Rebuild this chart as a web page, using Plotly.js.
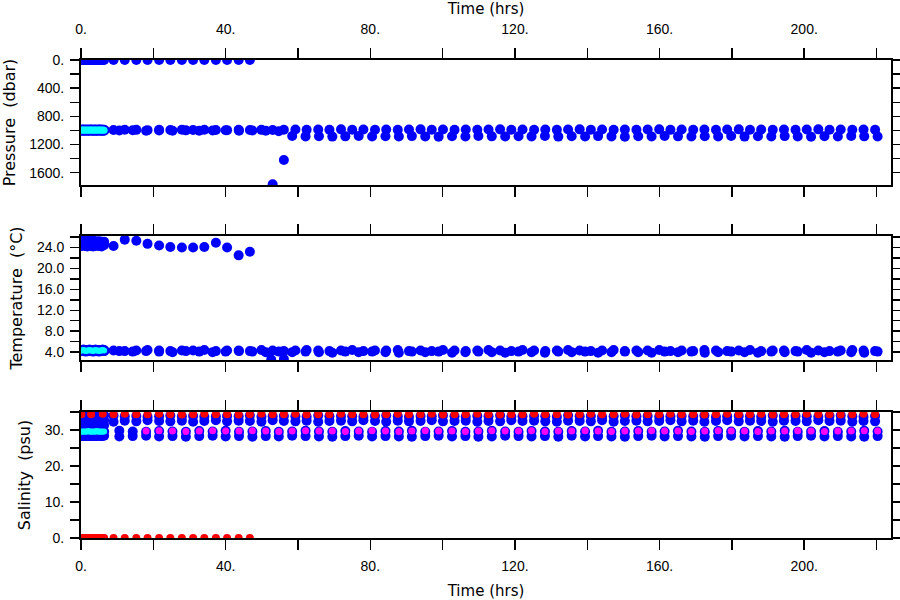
<!DOCTYPE html>
<html><head><meta charset="utf-8">
<script src="https://cdn.plot.ly/plotly-3.0.1.min.js"></script>
<style>html,body{margin:0;padding:0;background:#fff}#chart{width:900px;height:600px}</style>
</head><body><div id="chart"></div>
<script>
// ---------- DATA ----------
// dense sampling period at the start (hrs)
var denseT = [0.0,0.35,0.7,1.0,1.35,1.7,2.0,2.35,2.7,3.0,3.35,3.7,4.0,4.35,4.7,5.0,5.35,5.7,6.0,6.4];
// cycle series A (hrs)
var tA = [9.0,12.1,15.3,18.4,21.6,24.7,27.9,31.0,34.1,37.3,40.4,43.6,46.7,49.9,53.0,56.1,59.3,62.4,65.6,68.7,71.9,75.0,78.1,81.3,84.4,87.6,90.7,93.9,97.0,100.1,103.3,106.4,109.6,112.7,115.9,119.0,122.1,125.3,128.4,131.6,134.7,137.9,141.0,144.1,147.3,150.4,153.6,156.7,159.9,163.0,166.1,169.3,172.4,175.6,178.7,181.9,185.0,188.1,191.3,194.4,197.6,200.7,203.9,207.0,210.1,213.3,216.4,219.6];
// cycle series B (hrs)
var tB = [10.6,14.3,18.0,21.6,25.3,29.0,32.7,36.4,40.0,43.7,47.4,51.1,54.7,58.4,62.1,65.8,69.5,73.1,76.8,80.5,84.2,87.9,91.5,95.2,98.9,102.6,106.3,109.9,113.6,117.3,121.0,124.6,128.3,132.0,135.7,139.4,143.0,146.7,150.4,154.1,157.8,161.4,165.1,168.8,172.5,176.2,179.8,183.5,187.2,190.9,194.6,198.2,201.9,205.6,209.3,213.0,216.6,220.3];
// surface times of series A (first 13 cycles)
var tSurf = [9.0,12.1,15.3,18.4,21.6,24.7,27.9,31.0,34.1,37.3,40.4,43.6,46.7];

// Pressure (dbar)
var pDenseSurf = [0,0,0,0,0,0,0,0,0,0,0,0,0,0,0,0,0,0,0,0];
var pDensePark = [996,994,995,997,993,995,996,994,995,993,997,995,994,996,995,993,994,996,995,997];
var pSurf = [0,0,0,0,0,0,0,0,0,0,0,0,0];
var pParkA = [995,990,992,996,990,994,991,995,990,993,996,990,994,992,995,990,988,992,986,990,985,991,987,990,986,992,988,985,990,987,992,986,990,988,985,991,987,990,986,992,988,985,990,987,991,986,990,988,985,992,987,990,986,991,988,985,990,987,992,986,990,988,985,991,987,990,986,990];
var pParkB = [1002,998,1005,1000,1003,999,1004,1001,998,1003,1000,1004,1010,1080,1085,1082,1088,1084,1080,1086,1083,1087,1081,1085,1089,1082,1086,1080,1084,1087,1082,1085,1080,1088,1083,1086,1081,1085,1089,1082,1086,1080,1084,1087,1082,1085,1080,1088,1083,1086,1081,1085,1089,1082,1086,1080,1084,1087];
var pOutT = [53.0,56.1];
var pOutV = [1765,1420];

// Temperature (degC)
var tDenseTop1 = [24.3,24.4,24.5,24.3,24.4,24.2,24.4,24.5,24.3,24.4,24.2,24.4,24.3,24.5,24.4,24.3,24.4,24.2,24.4,24.5];
var tDenseTop2 = [25.6,25.3,25.1,25.4,25.2,25.0,25.3,25.1,25.2,25.0,25.3,25.1,25.2,25.0,25.1,25.2,25.0,25.1,24.9,25.1];
var tDensePark = [4.3,4.3,4.4,4.3,4.2,4.3,4.3,4.4,4.3,4.3,4.2,4.3,4.4,4.3,4.3,4.2,4.3,4.3,4.4,4.3];
var tSurfV = [24.3,25.5,25.3,24.7,24.4,24.1,24.0,24.0,24.1,24.9,24.0,22.5,23.2];
var tParkA = [4.3,4.2,4.3,4.4,4.3,4.2,4.3,4.3,4.4,4.2,4.3,4.3,4.2,4.4,4.3,4.2,4.3,4.4,4.3,4.2,4.3,4.4,4.2,4.3,4.3,4.4,4.2,4.3,4.2,4.4,4.3,4.2,4.3,4.4,4.3,4.2,4.4,4.3,4.2,4.3,4.4,4.3,4.2,4.3,4.4,4.2,4.3,4.3,4.4,4.2,4.3,4.2,4.4,4.3,4.2,4.3,4.4,4.2,4.3,4.3,4.2,4.4,4.3,4.2,4.3,4.4,4.3,4.2];
var tParkB = [4.2,4.1,4.2,4.1,4.0,4.2,4.1,4.0,4.1,4.2,4.1,4.0,4.1,4.0,4.1,4.0,3.9,4.1,4.0,4.1,4.0,3.9,4.1,4.0,4.1,3.9,4.0,4.1,4.0,3.9,4.1,4.0,3.9,4.1,4.0,4.1,3.9,4.0,4.1,4.0,3.9,4.1,4.0,4.1,3.9,4.0,4.1,4.0,3.9,4.1,4.0,4.1,3.9,4.0,4.1,4.0,3.9,4.1];
var tOutT = [52.6,56.1];
var tOutV = [2.6,2.7];

// Salinity (psu)
var sDense1 = [34.1,34.2,34.0,34.1,34.2,34.1,34.0,34.2,34.1,34.1,34.0,34.2,34.1,34.0,34.1,34.2,34.1,34.0,34.2,34.1];
var sDense2 = [32.7,32.8,32.6,32.7,32.9,32.7,32.6,32.8,32.7,32.6,32.8,32.7,32.9,32.6,32.7,32.8,32.7,32.6,32.8,32.7];
var sDense3 = [31.3,31.4,31.2,31.3,31.5,31.3,31.2,31.4,31.3,31.2,31.4,31.3,31.5,31.2,31.3,31.4,31.3,31.2,31.4,31.3];
var sDense4 = [28.4,28.3,28.5,28.4,28.3,28.4,28.5,28.3,28.4,28.4,28.3,28.5,28.4,28.3,28.4,28.5,28.4,28.3,28.4,28.4];
var sDenseCyan = [29.6,29.5,29.6,29.6,29.5,29.6,29.7,29.6,29.5,29.6,29.6,29.5,29.6,29.7,29.6,29.5,29.6,29.6,29.5,29.6];
var sDenseZero = [0,0,0,0,0,0,0,0,0,0,0,0,0,0,0,0,0,0,0,0];
var sRedDenseT = [0.1,2.8,6.0];
var sRedDenseV = [34.4,34.4,34.5];
var sSurf = [0,0,0,0,0,0,0,0,0,0,0,0,0];
var sParkA1 = [34.0,33.8,33.9,33.7,33.8,34.0,33.8,33.9,33.7,33.8,33.9,33.8,34.0,33.7,33.8,33.9,33.8,33.7,34.0,33.8,33.9,33.8,33.7,33.9,34.0,33.8,33.7,33.9,33.8,34.0,33.8,33.7,33.9,33.8,34.0,33.7,33.8,33.9,33.8,33.7,34.0,33.8,33.9,33.7,33.8,34.0,33.8,33.9,33.7,33.8,33.9,33.8,34.0,33.7,33.8,33.9,33.8,33.7,34.0,33.8,33.9,33.8,33.7,33.9,34.0,33.8,33.7,33.9];
var sParkA2 = [32.3,32.6,32.4,32.7,32.5,32.4,32.6,32.3,32.5,32.7,32.4,32.6,32.5,32.3,32.7,32.5,32.4,32.6,32.3,32.5,32.6,32.4,32.7,32.5,32.3,32.6,32.4,32.5,32.7,32.4,32.5,32.6,32.3,32.5,32.4,32.7,32.5,32.6,32.4,32.3,32.6,32.5,32.4,32.7,32.3,32.5,32.6,32.4,32.5,32.7,32.4,32.6,32.3,32.5,32.7,32.4,32.6,32.5,32.3,32.6,32.5,32.4,32.7,32.5,32.6,32.3,32.5,32.4];
var sFlagA = [34.4,34.5,34.4,34.4,34.5,34.4,34.3,34.4,34.5,34.4,34.4,34.3,34.4,34.5,34.4,34.4,34.5,34.3,34.4,34.4,34.5,34.4,34.4,34.3,34.4,34.5,34.4,34.4,34.5,34.3,34.4,34.4,34.5,34.4,34.3,34.4,34.4,34.5,34.4,34.4,34.3,34.4,34.5,34.4,34.4,34.5,34.3,34.4,34.4,34.5,34.4,34.4,34.3,34.4,34.5,34.4,34.4,34.5,34.3,34.4,34.4,34.5,34.4,34.4,34.3,34.4,34.5,34.4];
var sParkB1 = [29.8,29.6,29.5,29.7,29.6,29.5,29.7,29.6,29.8,29.5,29.6,29.7,29.5,29.6,29.8,29.6,29.5,29.7,29.6,29.5,29.7,29.6,29.8,29.5,29.6,29.7,29.5,29.6,29.8,29.6,29.5,29.7,29.6,29.5,29.7,29.6,29.8,29.5,29.6,29.7,29.5,29.6,29.8,29.6,29.5,29.7,29.6,29.5,29.7,29.6,29.8,29.5,29.6,29.7,29.5,29.6,29.8,29.6];
var sParkB2 = [28.2,28.3,28.4,28.2,28.3,28.1,28.3,28.4,28.2,28.3,28.1,28.3,28.2,28.4,28.3,28.2,28.1,28.3,28.4,28.2,28.3,28.2,28.1,28.3,28.4,28.2,28.3,28.1,28.2,28.4,28.3,28.2,28.3,28.1,28.4,28.2,28.3,28.2,28.1,28.3,28.4,28.2,28.3,28.2,28.1,28.3,28.4,28.2,28.3,28.2,28.1,28.3,28.4,28.2,28.3,28.2,28.1,28.3];
var sMagB = [null,null,29.7,29.8,29.7,29.6,29.7,29.8,29.7,29.7,29.8,29.7,29.6,29.7,29.8,29.7,29.7,29.6,29.7,29.8,29.7,29.6,29.7,29.8,29.7,29.7,29.6,29.7,29.8,29.7,29.7,29.8,29.6,29.7,29.7,29.8,29.7,29.6,29.7,29.7,29.8,29.7,29.7,29.6,29.7,29.8,29.7,29.7,29.6,29.7,29.7,29.8,29.7,29.6,29.7,29.7,29.8,29.7];

// tick labels
var xTickVals = [0,20,40,60,80,100,120,140,160,180,200,220];
var xTickText = ['0.','','40.','','80.','','120.','','160.','','200.',''];
var pTickVals = [0,200,400,600,800,1000,1200,1400,1600];
var pTickText = ['0.','','400.','','800.','','1200.','','1600.'];
var tTickVals = [4,6,8,10,12,14,16,18,20,22,24,26];
var tTickText = ['4.0','','8.0','','12.0','','16.0','','20.0','','24.0',''];
var sTickVals = [0,5,10,15,20,25,30,35];
var sTickText = ['0.','','10.','','20.','','30.',''];

// ---------- PLOT ----------
var BLUE='#0000ff', CYAN='#00ffff', RED='#ff0000', MAG='#ff00ff';
function pts(x,y,color,size,n){
  return {type:'scatter',mode:'markers',x:x,y:y,xaxis:'x'+(n>1?n:''),yaxis:'y'+(n>1?n:''),
    hoverinfo:'skip',marker:{color:color,size:size,line:{width:0}}};
}
var traces = [
  // pressure
  pts([].concat(denseT,denseT,tSurf,tA,tB,pOutT),[].concat(pDenseSurf,pDensePark,pSurf,pParkA,pParkB,pOutV),BLUE,10,1),
  pts(denseT,pDensePark,BLUE,11,1),
  pts(denseT,pDensePark,CYAN,7,1),
  // temperature
  pts([].concat(denseT,denseT,denseT,tSurf,tA,tB,tOutT),[].concat(tDenseTop1,tDenseTop2,tDensePark,tSurfV,tParkA,tParkB,tOutV),BLUE,10,2),
  pts(denseT,tDensePark,BLUE,11,2),
  pts(denseT,tDensePark,CYAN,6,2),
  // salinity
  pts([].concat(denseT,denseT,denseT,denseT,denseT,tA,tA,tB,tB),[].concat(sDense1,sDense2,sDense3,sDense4,sDenseCyan,sParkA1,sParkA2,sParkB1,sParkB2),BLUE,10,3),
  pts(denseT,sDenseCyan,CYAN,6,3),
  pts(tB,sMagB,MAG,7,3),
  pts([].concat(sRedDenseT,tA,denseT,tSurf),[].concat(sRedDenseV,sFlagA,sDenseZero,sSurf),RED,8,3)
];

var FONT = {family:'"Liberation Sans", Arial, sans-serif', size:14, color:'#000'};
function xax(extra){
  return Object.assign({range:[0,224],tickmode:'array',tickvals:xTickVals,ticktext:xTickText,
    showline:true,linecolor:'#000',linewidth:2,mirror:'allticks',ticks:'outside',ticklen:10,tickwidth:1.5,tickcolor:'#000',
    showgrid:false,zeroline:false,fixedrange:true,automargin:false,tickfont:FONT},extra);
}
function yax(extra){
  return Object.assign({tickmode:'array',showline:true,linecolor:'#000',linewidth:2,mirror:'allticks',ticks:'outside',ticklen:9,tickwidth:1.5,tickcolor:'#000',
    showgrid:false,zeroline:false,fixedrange:true,automargin:false,tickfont:FONT,ticklabelstandoff:3},extra);
}
var TFONT = {family:'"DejaVu Sans", sans-serif', size:15, color:'#000'};
var YFONT = {family:'"DejaVu Sans", sans-serif', size:16, color:'#000'};
var layout = {
  width:900,height:600,margin:{l:81,r:9,t:60,b:62},showlegend:false,
  paper_bgcolor:'#fff',plot_bgcolor:'#fff',font:FONT,
  xaxis: xax({anchor:'y',side:'top',showticklabels:true,ticklabelstandoff:8,title:{text:'Time (hrs)',font:TFONT,standoff:6}}),
  xaxis2: xax({anchor:'y2',showticklabels:false}),
  xaxis3: xax({anchor:'y3',side:'bottom',showticklabels:true,ticklabelstandoff:4,title:{text:'Time (hrs)',font:TFONT,standoff:13}}),
  yaxis: yax({domain:[0.7385,1],anchor:'x',range:[1775,0],tickvals:pTickVals,ticktext:pTickText,title:{text:'Pressure\u00a0 (dbar)',font:YFONT,standoff:10}}),
  yaxis2: yax({domain:[0.3724,0.6318],anchor:'x2',range:[2.5,26.2],tickvals:tTickVals,ticktext:tTickText,title:{text:'Temperature\u00a0 (°C)',font:YFONT,standoff:10}}),
  yaxis3: yax({domain:[0,0.2636],anchor:'x3',range:[0,35],tickvals:sTickVals,ticktext:sTickText,title:{text:'Salinity\u00a0 (psu)',font:YFONT,standoff:10}})
};
Plotly.newPlot('chart',traces,layout,{staticPlot:true,displayModeBar:false});
</script></body></html>
